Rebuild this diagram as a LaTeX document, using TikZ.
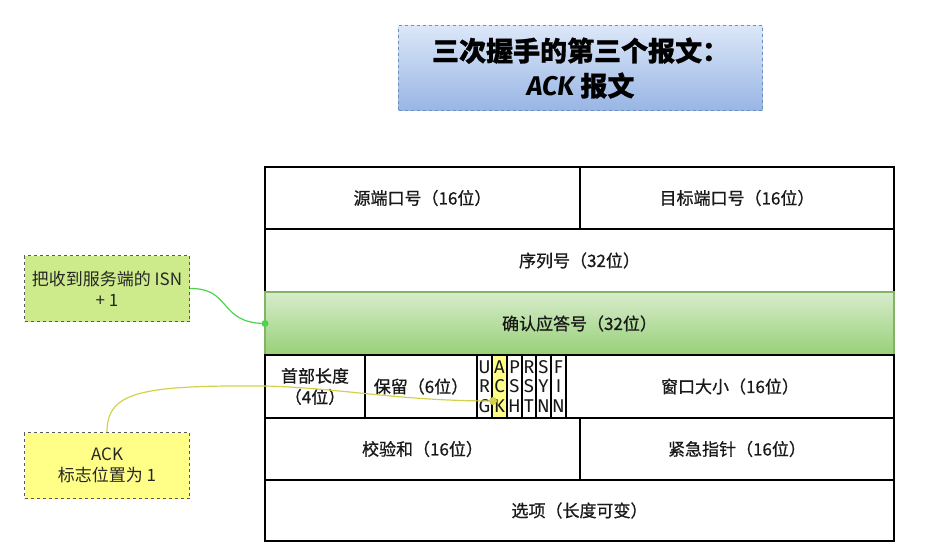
\documentclass[tikz,border=0pt]{standalone}
\usepackage{fontspec}
\setmainfont{Noto Sans CJK SC}
\newfontfamily\latinfont{Fira Sans}
\definecolor{tblue}{HTML}{6C8EBF}
\definecolor{ttop}{HTML}{DCE7F8}
\definecolor{tbot}{HTML}{98B5E4}
\definecolor{gtop}{HTML}{D7ECCB}
\definecolor{gbot}{HTML}{97D077}
\definecolor{gedge}{HTML}{82B366}
\definecolor{isnfill}{HTML}{CDEB8B}
\definecolor{ackfill}{HTML}{FFFF88}
\definecolor{gline}{HTML}{4CD44C}
\definecolor{yline}{HTML}{D2D24A}
\definecolor{flagy}{HTML}{FFFF88}
\begin{document}
\begin{tikzpicture}[x=1pt,y=-1pt,
  cell/.style={draw=black, line width=1.4pt, inner sep=0pt, outer sep=0pt, anchor=north west,
    font=\addfontfeature{FakeBold=0.8}\fontsize{17}{21}\selectfont, align=center, text=black!90},
  flagcell/.style={draw=black, line width=1.4pt, inner sep=0pt, outer sep=0pt, anchor=north west,
    align=center, text=black!90, minimum height=63pt, font=\latinfont\fontsize{18.5}{19.5}\selectfont},
  note/.style={draw=gray!70!black, dashed, line width=1pt, inner sep=0pt, anchor=north west,
    minimum width=165pt, minimum height=66pt, align=center, font=\fontsize{17}{21}\selectfont, text=black!85},
  conn/.style={line width=1.2pt}
]
\useasboundingbox (0,0) rectangle (928,555);

% title
\node[draw=tblue, dashed, line width=1.2pt, top color=ttop, bottom color=tbot, anchor=north west,
  minimum width=364pt, minimum height=85pt, inner sep=0pt, align=center,
  font=\bfseries\addfontfeature{FakeBold=1}\fontsize{27}{35}\selectfont] (title) at (398,25)
  {三次握手的第三个报文：\\{\latinfont\itshape ACK} 报文};

% table rows
\node[cell, minimum width=315pt, minimum height=62pt] (r1a) at (265,167) {源端口号（16位）};
\node[cell, minimum width=314pt, minimum height=62pt] (r1b) at (580,167) {目标端口号（16位）};
\node[cell, minimum width=629pt, minimum height=63pt] (r2) at (265,229) {序列号（32位）};
\node[cell, minimum width=629pt, minimum height=63pt, draw=gedge, top color=gtop, bottom color=gbot] (r3) at (265,292) {确认应答号（32位）};
\node[cell, minimum width=100pt, minimum height=63pt] (r4a) at (265,355) {首部长度\\（4位）};
\node[cell, minimum width=112pt, minimum height=63pt] (r4b) at (365,355) {保留（6位）};
\node[flagcell, minimum width=15pt] (fU) at (477,355) {U\\R\\G};
\node[flagcell, minimum width=15pt, fill=flagy] (fA) at (492,355) {A\\C\\K};
\node[flagcell, minimum width=15pt] (fP) at (507,355) {P\\S\\H};
\node[flagcell, minimum width=14pt] (fR) at (522,355) {R\\S\\T};
\node[flagcell, minimum width=15pt] (fS) at (536,355) {S\\Y\\N};
\node[flagcell, minimum width=15pt] (fF) at (551,355) {F\\I\\N};
\node[cell, minimum width=328pt, minimum height=63pt] (r4w) at (566,355) {窗口大小（16位）};
\node[cell, minimum width=315pt, minimum height=62pt] (r5a) at (265,418) {校验和（16位）};
\node[cell, minimum width=314pt, minimum height=62pt] (r5b) at (580,418) {紧急指针（16位）};
\node[cell, minimum width=629pt, minimum height=61pt] (r6) at (265,480) {选项（长度可变）};

% notes
\node[note, fill=isnfill] (isn) at (24,255) {把收到服务端的 ISN\\+ 1};
\node[note, fill=ackfill] (ackn) at (24,432) {ACK\\标志位置为 1};

% connectors
\coordinate (ackdot) at (493,401);
\draw[conn, gline] (isn.east) .. controls (232,288) and (218,323) .. (r3.west);
\fill[gline] (r3.west) circle (3.5pt);
\draw[conn, yline] (ackn.north) .. controls (107,392) and (140,385) .. (266,386)
  .. controls (340,388) and (400,401) .. (ackdot);
\fill[yline] (ackdot) circle (4pt);
\end{tikzpicture}
\end{document}
